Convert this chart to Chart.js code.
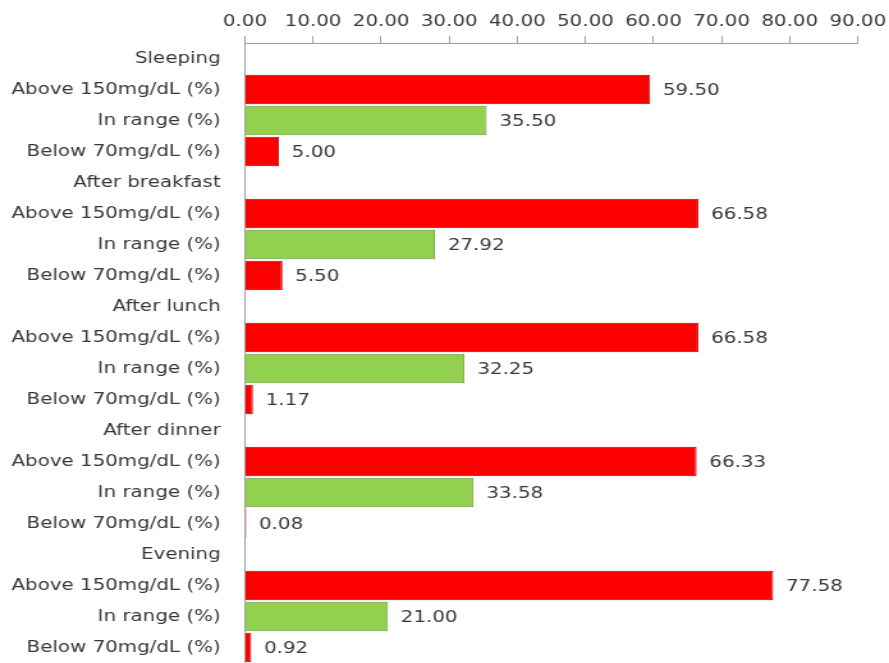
<!DOCTYPE html>
<html>
<head>
<meta charset="utf-8">
<script src="https://cdn.jsdelivr.net/npm/chart.js@4"></script>
<style>
  body { margin: 0; background: #fff; }
  canvas { display: block; }
</style>
</head>
<body>
<!-- drawn at 695 wide and stretched to 889, like the original picture -->
<canvas id="glucoseChart" width="695" height="663" style="width:889px;height:663px"></canvas>
<script>
// Các nhóm thời điểm và tên chuỗi
const groups = ["Sleeping", "After breakfast", "After lunch", "After dinner", "Evening"];
const seriesNames = ["Above 150mg/dL (%)", "In range (%)", "Below 70mg/dL (%)"];

// Giá trị của từng chuỗi theo nhóm
const aboveValues = [59.50, 66.58, 66.58, 66.33, 77.58];
const inRangeValues = [35.50, 27.92, 32.25, 33.58, 21.00];
const belowValues = [5.00, 5.50, 1.17, 0.08, 0.92];

// Trục x
const xMin = 0;
const xMax = 90;
const xStep = 10;

const seriesValues = [aboveValues, inRangeValues, belowValues];
const seriesColors = ["#ff0000", "#92d050", "#ff0000"];
const seriesBorders = ["#b30000", "#6a9a36", "#b30000"];

// Mỗi nhóm: một dòng tiêu đề rồi ba thanh
const rowLabels = [];
const rowValues = [];
const rowColors = [];
const rowBorders = [];
groups.forEach((group, g) => {
  rowLabels.push(group);
  rowValues.push(null);
  rowColors.push("transparent");
  rowBorders.push("transparent");
  seriesNames.forEach((name, s) => {
    rowLabels.push(name);
    rowValues.push(seriesValues[s][g]);
    rowColors.push(seriesColors[s]);
    rowBorders.push(seriesBorders[s]);
  });
});

const textColor = "#383838";
const fontFamily = "'DejaVu Sans', sans-serif";

// Nhãn giá trị bên phải thanh
const valueLabels = {
  id: "valueLabels",
  afterDatasetsDraw(chart) {
    const ctx = chart.ctx;
    const meta = chart.getDatasetMeta(0);
    ctx.save();
    ctx.font = "15.5px " + fontFamily;
    ctx.fillStyle = textColor;
    ctx.textAlign = "left";
    ctx.textBaseline = "middle";
    meta.data.forEach((bar, i) => {
      const v = rowValues[i];
      if (v === null) return;
      ctx.fillText(v.toFixed(2), bar.x + 10, bar.y + 1);
    });
    ctx.restore();
  },
};

const glucoseChart = new Chart(document.getElementById("glucoseChart").getContext("2d"), {
  type: "bar",
  data: {
    labels: rowLabels,
    datasets: [
      {
        data: rowValues,
        backgroundColor: rowColors,
        borderColor: rowBorders,
        borderWidth: 1,
        borderSkipped: "start",
        barPercentage: 0.95,
        categoryPercentage: 1,
        minBarLength: 1,
      },
    ],
  },
  options: {
    indexAxis: "y",
    responsive: false,
    animation: false,
    devicePixelRatio: 1,
    layout: { padding: 0 },
    plugins: {
      legend: { display: false },
      tooltip: { enabled: false },
    },
    scales: {
      x: {
        position: "top",
        min: xMin,
        max: xMax,
        grid: {
          drawOnChartArea: false,
          drawTicks: true,
          tickLength: 7,
          color: "#a0a0a0",
        },
        border: { display: true, color: "#a0a0a0", width: 1 },
        ticks: {
          stepSize: xStep,
          padding: 5,
          color: textColor,
          font: { family: fontFamily, size: 15.5 },
          callback: (value) => Number(value).toFixed(2),
        },
        afterFit: (scale) => {
          scale.height = 43;
          scale.paddingRight = 24.4;
        },
      },
      y: {
        // khoảng cách nhãn - trục làm bằng tick trong suốt
        grid: {
          drawOnChartArea: false,
          drawTicks: true,
          tickLength: 19,
          color: "transparent",
        },
        border: { display: true, color: "#a0a0a0", width: 1 },
        ticks: {
          autoSkip: false,
          padding: 0,
          color: textColor,
          font: { family: fontFamily, size: 15.5 },
        },
        afterFit: (scale) => {
          scale.width = 191.5;
          scale.paddingBottom = 0;
        },
      },
    },
  },
  plugins: [valueLabels],
});
</script>
</body>
</html>
